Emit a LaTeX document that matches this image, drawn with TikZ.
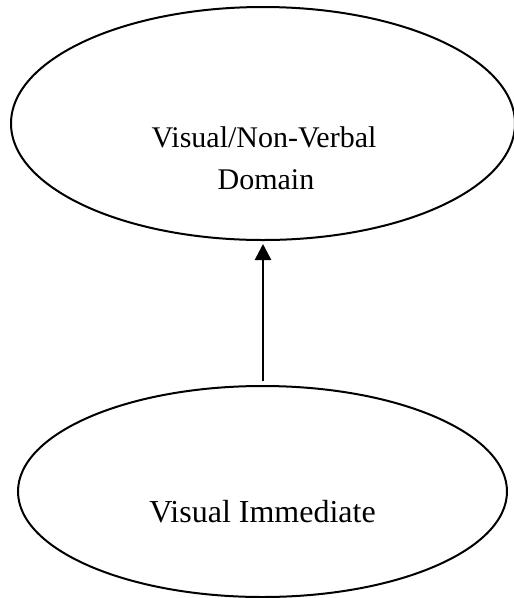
\documentclass[tikz,border=0pt]{standalone}
\usepackage{fontspec}
\setmainfont{Liberation Serif}
\usetikzlibrary{shapes.geometric,arrows.meta}
\begin{document}
\begin{tikzpicture}[x=1pt,y=-1pt,
  oval/.style={ellipse,draw=black,line width=2pt,inner sep=0pt},
  lbl/.style={inner sep=0pt,anchor=base},
  conn/.style={line width=2.6pt,-{Triangle[width=16pt,length=16pt]},shorten >=3pt,shorten <=4pt}]
\useasboundingbox (0,0) rectangle (514,598);
\begin{scope}
\clip (0,0) rectangle (514,598);
\node[oval,minimum width=504pt,minimum height=233pt] (top) at (263,123.5) {};
\node[oval,minimum width=489pt,minimum height=211pt] (bot) at (262.5,491.5) {};
\end{scope}
\node[lbl,font=\fontsize{30}{42}\selectfont] (t1) at (264,147) {Visual/Non-Verbal};
\node[lbl,font=\fontsize{30}{42}\selectfont] (t2) at (266,189) {Domain};
\node[lbl,font=\fontsize{32}{40}\selectfont] (b1) at (262.5,522) {Visual Immediate};
\draw[conn] (bot.north -| 263,0) -- (top.south -| 263,0);
\end{tikzpicture}
\end{document}
